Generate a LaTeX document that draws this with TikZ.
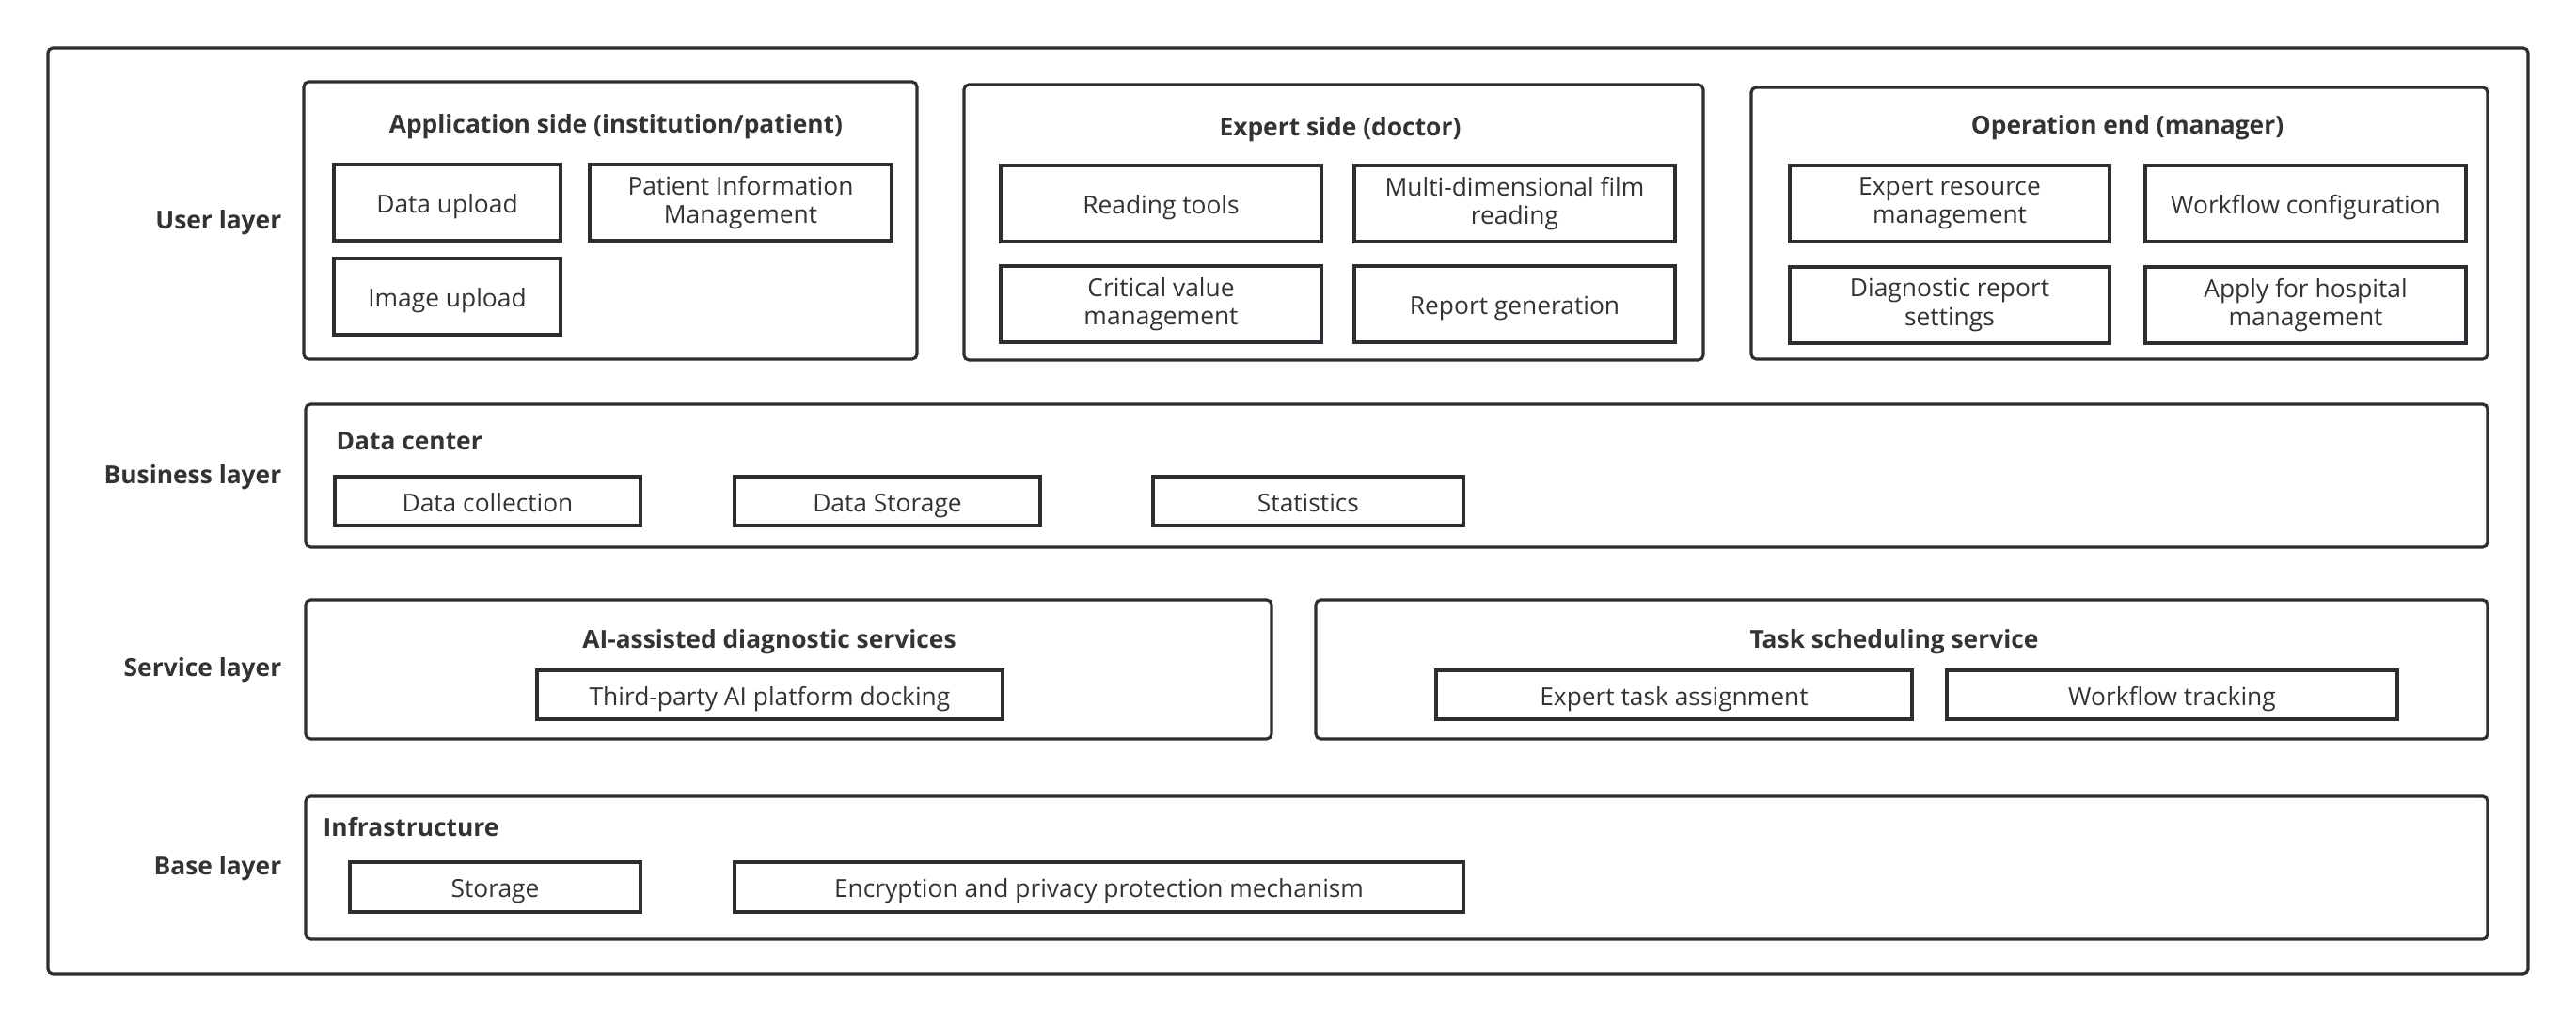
\documentclass[tikz,border=0pt]{standalone}
\usepackage{fontspec}
\setmainfont{Open Sans}
\usetikzlibrary{positioning}
\definecolor{linegray}{HTML}{2B2F33}
\definecolor{textgray}{HTML}{333333}
\newcommand{\itemfont}{\fontsize{7.5}{8.6}\selectfont}
\newcommand{\titlefont}{\fontsize{7.5}{8.6}\selectfont\bfseries}
\tikzset{
  groupbox/.style={draw=linegray,line width=0.9pt,rounded corners=1.5pt},
  itembox/.style={draw=linegray,line width=0.9pt,rectangle,align=center,text=textgray,font=\itemfont,inner sep=0pt},
  onebox/.style={itembox,text height=1.6ex,text depth=0.4ex},
  grouptitle/.style={font=\titlefont,text=textgray},
  layerlabel/.style={font=\titlefont,text=textgray,anchor=east,inner sep=0pt}
}

\begin{document}
\begin{tikzpicture}
\useasboundingbox (0,0) rectangle (27.39,10.86);
\draw[groupbox] (0.51,10.35) rectangle (26.88,0.50);

% layer names
\node[layerlabel] (userlayer) at (3.00,8.49) {User layer};
\node[layerlabel] (businesslayer) at (3.00,5.78) {Business layer};
\node[layerlabel] (servicelayer) at (3.00,3.73) {Service layer};
\node[layerlabel] (baselayer) at (3.00,1.62) {Base layer};

% user layer
\draw[groupbox] (3.23,9.99) rectangle (9.75,7.04);
\node[grouptitle] (apptitle) at (6.55,9.51) {Application side (institution/patient)};
\node[onebox,minimum width=2.41cm,minimum height=0.81cm] (dataupload) at (4.755,8.705) {Data upload};
\node[itembox,minimum width=3.21cm,minimum height=0.81cm] (patientinfo) at (7.875,8.705) {Patient Information\\Management};
\node[onebox,minimum width=2.41cm,minimum height=0.81cm] (imageupload) at (4.755,7.705) {Image upload};

\draw[groupbox] (10.25,9.96) rectangle (18.11,7.03);
\node[grouptitle] (experttitle) at (14.25,9.48) {Expert side (doctor)};
\node[onebox,minimum width=3.41cm,minimum height=0.81cm] (readingtools) at (12.345,8.695) {Reading tools};
\node[itembox,minimum width=3.41cm,minimum height=0.81cm] (multidim) at (16.105,8.695) {Multi-dimensional film\\reading};
\node[itembox,minimum width=3.41cm,minimum height=0.81cm] (criticalvalue) at (12.345,7.625) {Critical value\\management};
\node[onebox,minimum width=3.41cm,minimum height=0.81cm] (reportgen) at (16.105,7.625) {Report generation};

\draw[groupbox] (18.62,9.93) rectangle (26.45,7.04);
\node[grouptitle] (optitle) at (22.62,9.50) {Operation end (manager)};
\node[itembox,minimum width=3.40cm,minimum height=0.81cm] (expertres) at (20.73,8.695) {Expert resource\\management};
\node[onebox,minimum width=3.41cm,minimum height=0.81cm] (workflowconf) at (24.515,8.695) {Workflow configuration};
\node[itembox,minimum width=3.40cm,minimum height=0.81cm] (diagreport) at (20.73,7.615) {Diagnostic report\\settings};
\node[itembox,minimum width=3.41cm,minimum height=0.81cm] (applyhosp) at (24.515,7.615) {Apply for hospital\\management};

% business layer
\draw[groupbox] (3.25,6.56) rectangle (26.45,5.04);
\node[grouptitle,anchor=west,inner sep=0pt] (datacenter) at (3.57,6.17) {Data center};
\node[onebox,minimum width=3.25cm,minimum height=0.52cm] (datacollect) at (5.185,5.53) {Data collection};
\node[onebox,minimum width=3.25cm,minimum height=0.52cm] (datastorage) at (9.435,5.53) {Data Storage};
\node[onebox,minimum width=3.30cm,minimum height=0.52cm] (statistics) at (13.91,5.53) {Statistics};

% service layer
\draw[groupbox] (3.25,4.48) rectangle (13.52,3.00);
\node[grouptitle] (aititle) at (8.18,4.03) {AI-assisted diagnostic services};
\node[onebox,minimum width=4.95cm,minimum height=0.52cm] (thirdparty) at (8.185,3.47) {Third-party AI platform docking};

\draw[groupbox] (13.99,4.48) rectangle (26.45,3.00);
\node[grouptitle] (tasktitle) at (20.14,4.03) {Task scheduling service};
\node[onebox,minimum width=5.06cm,minimum height=0.52cm] (experttask) at (17.80,3.47) {Expert task assignment};
\node[onebox,minimum width=4.79cm,minimum height=0.52cm] (workflowtrack) at (23.095,3.47) {Workflow tracking};

% base layer
\draw[groupbox] (3.25,2.39) rectangle (26.45,0.87);
\node[grouptitle,anchor=west,inner sep=0pt] (infra) at (3.43,2.06) {Infrastructure};
\node[onebox,minimum width=3.09cm,minimum height=0.53cm] (storage) at (5.265,1.425) {Storage};
\node[onebox,minimum width=7.75cm,minimum height=0.53cm] (encryption) at (11.685,1.425) {Encryption and privacy protection mechanism};

\end{tikzpicture}
\end{document}
